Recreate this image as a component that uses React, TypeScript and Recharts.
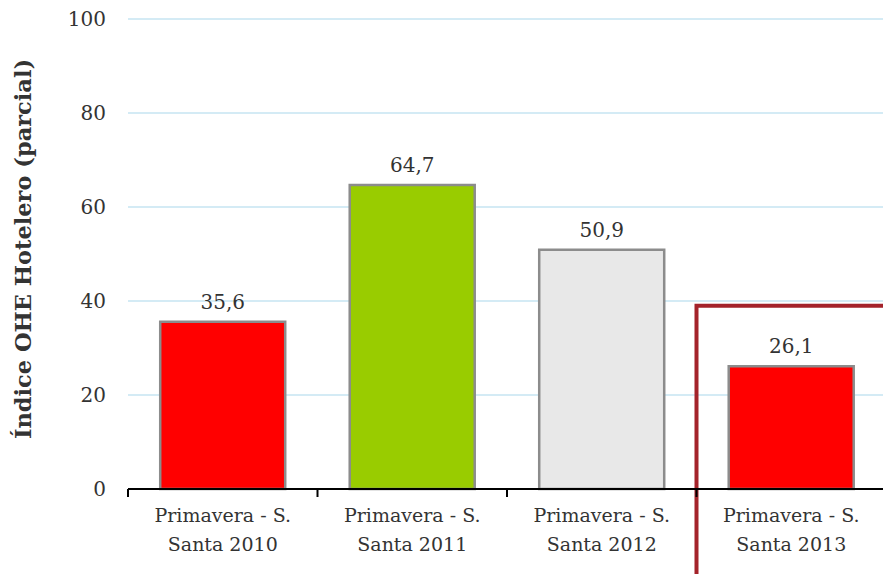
import React from "react";
import { BarChart, Bar, XAxis, YAxis, CartesianGrid, LabelList, Cell, ReferenceArea } from "recharts";

const categories = [
  "Primavera - S. Santa 2010",
  "Primavera - S. Santa 2011",
  "Primavera - S. Santa 2012",
  "Primavera - S. Santa 2013",
];
const ohe = [35.6, 64.7, 50.9, 26.1];
const barColors = ["#FF0000", "#99CC00", "#E8E8E8", "#FF0000"];
const yTicks = [0, 20, 40, 60, 80, 100];
const highlighted = categories[3];

const W = 886;
const H = 574;
const Y_AXIS_W = 128;
const FONT = "'DejaVu Serif', Georgia, serif";
const TXT = "#333333";

const chartData = categories.map((c, i) => ({ name: c, value: ohe[i] }));

function CategoryTick(props: any) {
  const { x, y, payload, index } = props;
  const half = payload?.offset || (W - Y_AXIS_W) / categories.length / 2;
  const [a, b] = String(payload.value).split(" Santa ");
  return (
    <g>
      <line x1={x - half} x2={x - half} y1={y} y2={y + 8} stroke="#000" strokeWidth={2} />
      {index === categories.length - 1 && (
        <line x1={x + half} x2={x + half} y1={y} y2={y + 8} stroke="#000" strokeWidth={2} />
      )}
      <text x={x} y={y + 33} textAnchor="middle" fill={TXT} fontSize={19} fontFamily={FONT}>
        <tspan x={x} dy={0}>{a}</tspan>
        <tspan x={x} dy={29}>{"Santa " + b}</tspan>
      </text>
    </g>
  );
}

function YLabel(props: any) {
  const { viewBox } = props;
  const cy = viewBox.y + viewBox.height / 2 - 5;
  return (
    <text
      x={31}
      y={cy}
      transform={`rotate(-90, 31, ${cy})`}
      textAnchor="middle"
      fill={TXT}
      fontSize={22.5}
      fontWeight="bold"
      fontFamily={FONT}
    >
      Índice OHE Hotelero (parcial)
    </text>
  );
}

export default function App() {
  return (
    <div style={{ position: "fixed", left: 0, top: 0, width: W, height: H, background: "#fff" }}>
      <BarChart
        width={W}
        height={H}
        data={chartData}
        margin={{ top: 19, right: 0, bottom: 0, left: 0 }}
        barCategoryGap="17%"
      >
        <CartesianGrid vertical={false} stroke="#D4EBF5" strokeWidth={2} />
        <XAxis
          dataKey="name"
          height={85}
          interval={0}
          axisLine={{ stroke: "#000", strokeWidth: 2 }}
          tickLine={false}
          tickSize={0}
          tickMargin={0}
          tick={<CategoryTick />}
        />
        <YAxis
          width={Y_AXIS_W}
          domain={[0, 100]}
          ticks={yTicks}
          axisLine={false}
          tickLine={false}
          tickSize={0}
          tickMargin={22}
          tick={{ fill: TXT, fontSize: 20, fontFamily: FONT }}
          label={<YLabel />}
        />
        <Bar dataKey="value" stroke="#8C8C8C" strokeWidth={2.5} isAnimationActive={false}>
          {chartData.map((d, i) => (
            <Cell key={d.name} fill={barColors[i]} />
          ))}
          <LabelList
            dataKey="value"
            position="top"
            offset={13}
            fill={TXT}
            fontSize={20}
            fontFamily={FONT}
            formatter={(v: any) => Number(v).toFixed(1).replace(".", ",")}
          />
        </Bar>
        <ReferenceArea
          x1={highlighted}
          x2={highlighted}
          y1={-30}
          y2={39}
          ifOverflow="visible"
          fill="none"
          fillOpacity={0}
          stroke="#A4232A"
          strokeWidth={4}
        />
      </BarChart>
    </div>
  );
}
